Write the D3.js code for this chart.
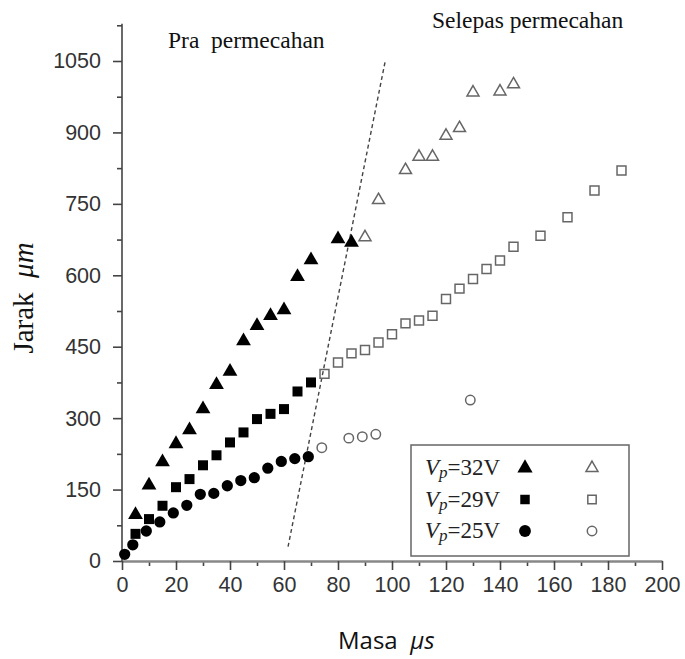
<!DOCTYPE html>
<html>
<head>
<meta charset="utf-8"/>
<style>
  body { margin: 0; background: #fff; }
  svg { display: block; }
</style>
</head>
<body>
<script src="https://d3js.org/d3.v7.min.js"></script>
<script>
var width = 685, height = 659;

// data
var xTicks = [0, 20, 40, 60, 80, 100, 120, 140, 160, 180, 200];
var yTicks = [0, 150, 300, 450, 600, 750, 900, 1050];

var tri32FilledX = [5, 10, 15, 20, 25, 30, 35, 40, 45, 50, 55, 60, 65, 70, 80, 85];
var tri32FilledY = [97, 159, 208, 246, 275, 319, 370, 398, 462, 494, 515, 527, 597, 632, 676, 669];
var tri32OpenX = [90, 95, 105, 110, 115, 120, 125, 130, 140, 145];
var tri32OpenY = [680, 758, 821, 849, 849, 893, 909, 984, 986, 1001];

var sq29FilledX = [5, 10, 15, 20, 25, 30, 35, 40, 45, 50, 55, 60, 65, 70];
var sq29FilledY = [57, 88, 116, 155, 172, 201, 222, 249, 270, 298, 309, 319, 356, 375];
var sq29OpenX = [75, 80, 85, 90, 95, 100, 105, 110, 115, 120, 125, 130, 135, 140, 145, 155, 165, 175, 185];
var sq29OpenY = [393, 417, 436, 443, 459, 476, 499, 505, 515, 550, 572, 592, 613, 631, 660, 683, 722, 778, 820];

var c25FilledX = [1, 4, 9, 14, 19, 24, 29, 34, 39, 44, 49, 54, 59, 64, 69];
var c25FilledY = [14, 34, 63, 82, 101, 117, 140, 142, 158, 169, 175, 195, 209, 215, 219];
var c25OpenX = [74, 84, 89, 94, 129];
var c25OpenY = [238, 258, 261, 266, 338];

var breakLineX = [61.5, 97.5];
var breakLineY = [30, 1050];

var legendLabels = ["32V", "29V", "25V"];

var svg = d3.select("body").append("svg")
  .attr("width", width)
  .attr("height", height);

var x = d3.scaleLinear().domain([0, 200]).range([122, 662]);
var y = d3.scaleLinear().domain([0, 1050]).range([561, 61]);

var axisColor = "#444";
var tickFont = "Liberation Sans, Arial, sans-serif";
var serif = "Liberation Serif, Times New Roman, serif";

// x axis
var gx = svg.append("g").attr("transform", "translate(0," + y(0) + ")");
gx.append("g")
  .call(d3.axisBottom(x).tickValues(d3.range(10, 200, 20)).tickSize(5).tickFormat(""))
  .call(function(g) { g.select(".domain").remove(); });
gx.append("g")
  .call(d3.axisBottom(x).tickValues(xTicks).tickSize(9).tickPadding(7).tickSizeOuter(0).tickFormat(d3.format("d")))
  .call(function(g) {
    g.select(".domain").attr("stroke-width", 2.5);
    g.selectAll("text").attr("font-size", 21.5).attr("fill", "#333")
      .attr("font-family", tickFont);
  });
gx.selectAll("line").attr("stroke", axisColor).attr("stroke-width", 1.6);
gx.selectAll(".domain").attr("stroke", "#888");

// y axis
var gy = svg.append("g").attr("transform", "translate(" + x(0) + ",0)");
gy.append("g")
  .call(d3.axisLeft(y).tickValues(d3.range(75, 1126, 150)).tickSize(5).tickFormat(""))
  .call(function(g) { g.select(".domain").remove(); });
gy.append("g")
  .call(d3.axisLeft(y).tickValues(yTicks).tickSize(9).tickPadding(12).tickSizeOuter(0).tickFormat(d3.format("d")))
  .call(function(g) {
    g.select(".domain").remove();
    g.selectAll("text").attr("font-size", 21.5).attr("fill", "#333")
      .attr("font-family", tickFont);
  });
gy.append("line")
  .attr("x1", 0).attr("x2", 0)
  .attr("y1", y(0)).attr("y2", y(1128))
  .attr("stroke", axisColor).attr("stroke-width", 2);
gy.selectAll("line").attr("stroke", axisColor).attr("stroke-width", 1.6);

// dashed break line
svg.append("path")
  .datum(d3.zip(breakLineX, breakLineY))
  .attr("d", d3.line().x(function(d) { return x(d[0]); }).y(function(d) { return y(d[1]); }))
  .attr("fill", "none")
  .attr("stroke", "#444")
  .attr("stroke-width", 1.4)
  .attr("stroke-dasharray", "4,3");

function drawSeries(xs, ys, type, size, filled) {
  var sym = d3.symbol().type(type).size(size);
  svg.append("g").selectAll("path")
    .data(d3.zip(xs, ys))
    .enter().append("path")
    .attr("transform", function(d) { return "translate(" + x(d[0]) + "," + y(d[1]) + ")"; })
    .attr("d", sym)
    .attr("fill", filled ? "#000" : "none")
    .attr("stroke", filled ? "none" : "#666")
    .attr("stroke-width", 1.5);
}

drawSeries(c25FilledX, c25FilledY, d3.symbolCircle, 100, true);
drawSeries(sq29FilledX, sq29FilledY, d3.symbolSquare, 100, true);
drawSeries(tri32FilledX, tri32FilledY, d3.symbolTriangle, 95, true);
drawSeries(c25OpenX, c25OpenY, d3.symbolCircle, 70, false);
drawSeries(sq29OpenX, sq29OpenY, d3.symbolSquare, 80, false);
drawSeries(tri32OpenX, tri32OpenY, d3.symbolTriangle, 62, false);

// legend
var legend = svg.append("g");
legend.append("rect")
  .attr("x", 411).attr("y", 445).attr("width", 218).attr("height", 111)
  .attr("fill", "#fff").attr("stroke", "#666").attr("stroke-width", 1.5);
var legendTypes = [d3.symbolTriangle, d3.symbolSquare, d3.symbolCircle];
var legendFilledSize = [100, 90, 110];
var legendOpenSize = [62, 70, 70];
legendLabels.forEach(function(lab, i) {
  var cy = 468 + i * 31.5;
  var t = legend.append("text")
    .attr("x", 425).attr("y", cy + 7)
    .attr("font-family", serif)
    .attr("font-size", 23).attr("fill", "#222");
  t.append("tspan").attr("font-style", "italic").text("V");
  t.append("tspan").attr("font-style", "italic").attr("font-size", 17).attr("dy", 3).text("p");
  t.append("tspan").attr("dy", -3).text("=" + lab);
  legend.append("path")
    .attr("transform", "translate(525," + cy + ")")
    .attr("d", d3.symbol().type(legendTypes[i]).size(legendFilledSize[i]))
    .attr("fill", "#000");
  legend.append("path")
    .attr("transform", "translate(592," + cy + ")")
    .attr("d", d3.symbol().type(legendTypes[i]).size(legendOpenSize[i]))
    .attr("fill", "none").attr("stroke", "#666").attr("stroke-width", 1.5);
});

// annotations
svg.append("text")
  .attr("x", 168).attr("y", 48)
  .attr("font-family", serif)
  .attr("font-size", 23.5).attr("fill", "#111")
  .style("white-space", "pre")
  .text("Pra  permecahan");
svg.append("text")
  .attr("x", 432).attr("y", 28)
  .attr("font-family", serif)
  .attr("font-size", 23.5).attr("fill", "#111")
  .text("Selepas permecahan");

// axis titles
var xt = svg.append("text")
  .attr("x", 338).attr("y", 649)
  .attr("font-family", "Open Sans, Noto Sans, sans-serif")
  .attr("font-size", 24).attr("fill", "#111")
  .style("white-space", "pre");
xt.append("tspan").text("Masa  ");
xt.append("tspan").attr("font-style", "italic").text("μs");

var yt = svg.append("text")
  .attr("transform", "translate(33,298) rotate(-90)")
  .attr("text-anchor", "middle")
  .attr("font-family", serif)
  .attr("font-size", 29).attr("fill", "#111")
  .style("white-space", "pre");
yt.append("tspan").text("Jarak  ");
yt.append("tspan").attr("font-style", "italic").text("μm");
</script>
</body>
</html>
